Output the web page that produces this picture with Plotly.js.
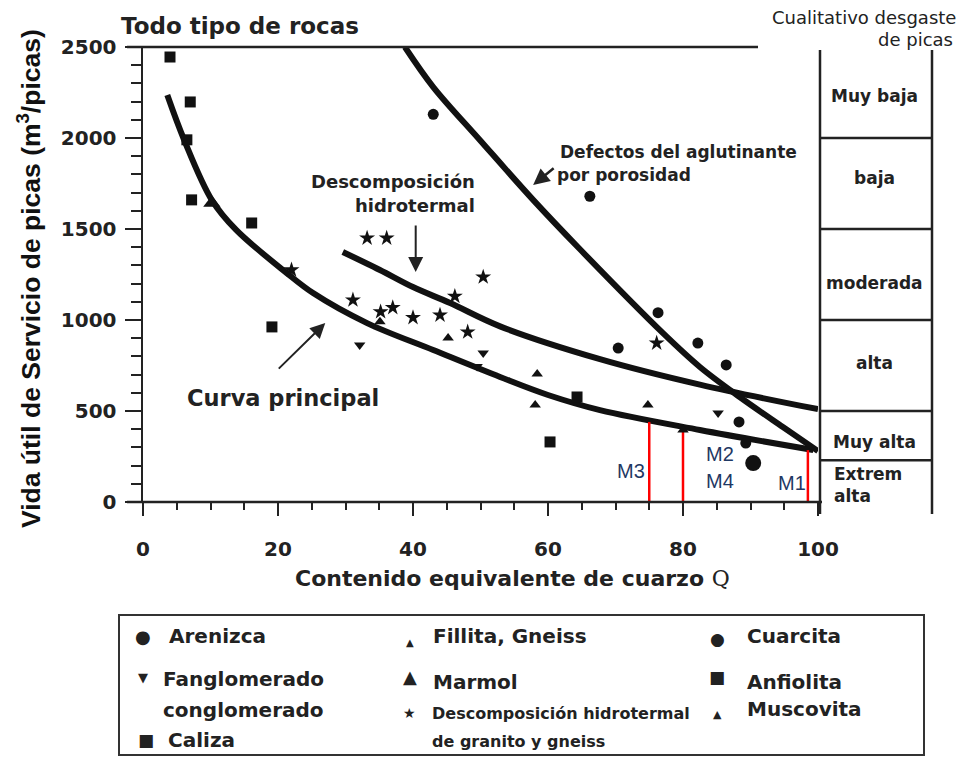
<!DOCTYPE html>
<html>
<head>
<meta charset="utf-8">
<script src="https://cdn.plot.ly/plotly-3.0.1.min.js"></script>
<style>
  html, body { margin: 0; padding: 0; background: #fff; }
  #chart { width: 956px; height: 757px; }
</style>
</head>
<body>
<div id="chart"></div>
<script>
// curves (Q %, m3/pica)
const mainX = [3.6, 6.1, 10.2, 13.8, 21.3, 25.2, 33.2, 43, 52.9, 60, 67.7, 82.5, 99.3];
const mainY = [2236, 1989, 1659, 1495, 1258, 1148, 983, 835, 687, 588, 505, 396, 286];
const hydroX = [29.6, 35.1, 40, 45.5, 52.9, 67.7, 82.5, 100];
const hydroY = [1374, 1275, 1181, 1093, 965, 785, 645, 510];
const defectX = [38.8, 43, 49.9, 57.8, 64.7, 77, 82.5, 88.4, 94.8, 100];
const defectY = [2500, 2280, 1989, 1660, 1390, 929, 742, 577, 412, 280];

// sample points
const dotX = [43, 66.2, 70.4, 76.3, 82.2, 86.4, 88.3, 89.3];
const dotY = [2130, 1680, 846, 1040, 873, 753, 440, 324];
const bigDotX = [90.4];
const bigDotY = [214];
const squareX = [4, 7, 6.5, 7.2, 16.1, 19.1, 60.3, 64.3];
const squareY = [2445, 2198, 1990, 1660, 1533, 962, 330, 577];
const marmolX = [10.2];
const marmolY = [1643];
const triUpX = [35.1, 45.2, 58.4, 58.1, 74.8, 80];
const triUpY = [990, 901, 703, 533, 533, 395];
const triDownX = [32.1, 49.5, 50.4, 85.2];
const triDownY = [863, 745, 819, 489];
const starX = [22, 31.1, 33.2, 35.2, 36.1, 37, 40, 44, 46.2, 48.1, 50.4, 76.1];
const starY = [1275, 1110, 1450, 1045, 1450, 1068, 1013, 1027, 1130, 934, 1236, 873];

// red markers M1..M4
const cutX = [75, 80, 98.5];
const cutTop = [440, 405, 285];
const mLabels = ['M3', 'M2', 'M4', 'M1'];
const mX = [72.3, 85.5, 85.5, 96.1];
const mY = [170, 264, 115, 104];

// wear classes on the right
const classBreaks = [2000, 1500, 1000, 500, 230];
const classNames = ['Muy baja', 'baja', 'moderada', 'alta', 'Muy alta'];
const classLabelY = [96, 178, 283, 363, 442];

const X = (p) => (p - 143) / 675;
const Y = (p) => (502 - p) / 455;
const dv = 'DejaVu Sans, Verdana, sans-serif';
const ar = 'Liberation Sans, Arial, sans-serif';
const ink = '#222';

function txt(text, x, y, size, extra = {}) {
  return {
    xref: 'paper', yref: 'paper', x: X(x), y: Y(y), text, showarrow: false,
    xanchor: 'left', yanchor: 'middle',
    font: { family: dv, size, color: ink },
    ...extra,
  };
}

function curve(x, y) {
  return {
    type: 'scatter', mode: 'lines', x, y, cliponaxis: false, hoverinfo: 'skip',
    line: { color: '#111', width: 6, shape: 'spline', smoothing: 1 },
  };
}

function points(x, y, symbol, size) {
  return {
    type: 'scatter', mode: 'markers', x, y, cliponaxis: false,
    marker: { symbol, size, color: '#111', line: { width: 0 } },
  };
}

const cutLineX = [];
const cutLineY = [];
cutX.forEach((x, i) => {
  cutLineX.push(x, x, null);
  cutLineY.push(0, cutTop[i], null);
});

const traces = [
  curve(mainX, mainY),
  curve(hydroX, hydroY),
  curve(defectX, defectY),
  {
    type: 'scatter', mode: 'lines', x: cutLineX, y: cutLineY, cliponaxis: false,
    line: { color: '#ff0000', width: 2.5 }, hoverinfo: 'skip',
  },
  points(dotX, dotY, 'circle', 11),
  points(bigDotX, bigDotY, 'circle', 16),
  points(squareX, squareY, 'square', 11),
  points(marmolX, marmolY, 'triangle-up', 15),
  points(triUpX, triUpY, 'triangle-up', 10),
  points(triDownX, triDownY, 'triangle-down', 10),
  points(starX, starY, 'star', 12),
];

const line = (x0, y0, x1, y1, w = 2.5) => ({
  type: 'line', xref: 'paper', yref: 'paper',
  x0: X(x0), y0: Y(y0), x1: X(x1), y1: Y(y1),
  line: { color: ink, width: w },
});

const shapes = [
  line(127, 502, 822, 502),
  line(127, 47, 758, 47),
  line(820, 50, 820, 514),
  line(932, 50, 932, 514),
  ...classBreaks.map((v) => ({
    type: 'line', xref: 'paper', yref: 'y', x0: X(820), x1: X(932), y0: v, y1: v,
    line: { color: ink, width: 2.5 },
  })),
  {
    type: 'rect', xref: 'paper', yref: 'paper',
    x0: X(119), x1: X(924), y0: Y(615), y1: Y(755),
    line: { color: '#333', width: 2 },
  },
];

const annotations = [
  txt('<b>Todo tipo de rocas</b>', 119, 26, 23),
  txt('Cualitativo desgaste', 958, 17, 18, { xanchor: 'right' }),
  txt('de picas', 955, 39, 18, { xanchor: 'right' }),
  txt('<b>Defectos del aglutinante</b>', 558, 152, 17),
  txt('<b>por porosidad</b>', 555, 175, 17),
  txt('<b>Descomposición</b>', 477, 182, 18, { xanchor: 'right' }),
  txt('<b>hidrotermal</b>', 477, 205, 18, { xanchor: 'right' }),
  txt('<b>Curva principal</b>', 185, 398, 22.5),
  txt('<b>Contenido equivalente de cuarzo </b><span style="font-family:DejaVu Serif">Q</span>', 512, 578, 22,
    { xanchor: 'center' }),
  txt('<b>Vida útil de Servicio de picas (m<sup>3</sup>/picas)</b>', 29, 279, 26.5,
    { xanchor: 'center', textangle: -90, font: { family: ar, size: 26.5, color: '#111' } }),
  ...classNames.map((name, i) => txt('<b>' + name + '</b>', 874, classLabelY[i], 17, { xanchor: 'center' })),
  txt('<b>Extrem<br>alta</b>', 832, 485, 17, { align: 'left' }),
  ...mLabels.map((m, i) => ({
    xref: 'x', yref: 'y', x: mX[i], y: mY[i], text: m, showarrow: false,
    font: { family: ar, size: 20, color: '#1f3864' },
  })),
  // arrows
  {
    xref: 'x', yref: 'y', x: 57.8, y: 1742, ax: 22, ay: -18, text: '', showarrow: true,
    arrowhead: 2, arrowsize: 1.3, arrowwidth: 2.5, arrowcolor: ink,
  },
  {
    xref: 'x', yref: 'y', x: 40.4, y: 1264, ax: 0, ay: -48, text: '', showarrow: true,
    arrowhead: 2, arrowsize: 1.5, arrowwidth: 2, arrowcolor: ink,
  },
  {
    xref: 'x', yref: 'y', x: 27, y: 983, ax: -48, ay: 47, text: '', showarrow: true,
    arrowhead: 2, arrowsize: 1.5, arrowwidth: 2, arrowcolor: ink,
  },
  // legend
  txt('●', 143, 636, 18, { xanchor: 'center' }),
  txt('<b>Arenizca</b>', 167, 636, 20),
  txt('▼', 143, 677, 13, { xanchor: 'center' }),
  txt('<b>Fanglomerado</b>', 161, 679, 20),
  txt('<b>conglomerado</b>', 161, 710, 20),
  txt('■', 146, 740, 17, { xanchor: 'center' }),
  txt('<b>Caliza</b>', 166, 740, 20),
  txt('▲', 410, 642, 10, { xanchor: 'center' }),
  txt('<b>Fillita, Gneiss</b>', 431, 636, 20),
  txt('▲', 410, 676, 18, { xanchor: 'center' }),
  txt('<b>Marmol</b>', 431, 682, 20),
  txt('★', 409, 713, 14, { xanchor: 'center' }),
  txt('<b>Descomposición hidrotermal</b>', 430, 713, 16),
  txt('<b>de granito y gneiss</b>', 430, 741, 16),
  txt('●', 717, 639, 17, { xanchor: 'center' }),
  txt('<b>Cuarcita</b>', 745, 636, 20),
  txt('■', 717, 677, 17, { xanchor: 'center' }),
  txt('<b>Anfiolita</b>', 745, 682, 20),
  txt('▲', 717, 714, 11, { xanchor: 'center' }),
  txt('<b>Muscovita</b>', 745, 709, 20),
];

const tickFont = { family: dv, size: 20, color: ink, weight: 'bold' };

const layout = {
  width: 956,
  height: 757,
  margin: { l: 143, r: 138, t: 47, b: 255 },
  paper_bgcolor: '#fff',
  plot_bgcolor: '#fff',
  showlegend: false,
  xaxis: {
    range: [0, 100], dtick: 20, tick0: 0, showgrid: false, zeroline: false, showline: false,
    ticks: 'outside', ticklen: 13, tickwidth: 2.5, tickcolor: ink,
    minor: { dtick: 5, ticks: 'outside', ticklen: 7, tickwidth: 2, tickcolor: ink },
    tickfont: tickFont, ticklabelstandoff: 16, fixedrange: true,
  },
  yaxis: {
    range: [0, 2500], dtick: 500, tick0: 0, showgrid: false, zeroline: false,
    showline: true, linecolor: ink, linewidth: 2.5,
    ticks: 'outside', ticklen: 16, tickwidth: 2.5, tickcolor: ink,
    minor: { dtick: 100, ticks: 'outside', ticklen: 10, tickwidth: 2, tickcolor: ink },
    tickfont: tickFont, ticklabelstandoff: 4, fixedrange: true,
  },
  shapes,
  annotations,
};

Plotly.newPlot('chart', traces, layout, { staticPlot: true, displayModeBar: false });
</script>
</body>
</html>
